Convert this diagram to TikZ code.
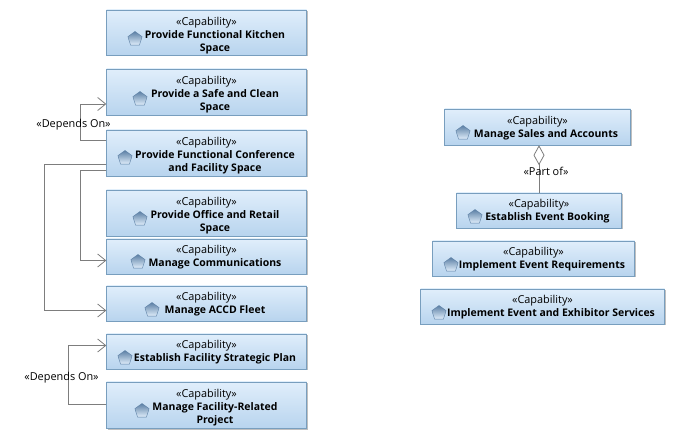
\documentclass[tikz,border=0pt]{standalone}
\usepackage{fontspec}
\setmainfont[BoldFeatures={Scale=0.96}]{Open Sans}
\usepackage{tikz}
\usetikzlibrary{arrows.meta,shadows,shapes.geometric}
\definecolor{capedge}{RGB}{120,158,190}
\definecolor{captop}{RGB}{224,238,251}
\definecolor{capbottom}{RGB}{184,212,238}
\definecolor{iconedge}{RGB}{92,128,165}
\definecolor{linkgray}{RGB}{125,125,125}
\newcommand{\capline}[1]{\hspace*{17pt}\textbf{#1}}
\newcommand{\capone}[1]{\rule{0pt}{10pt}«Capability»\\\capline{#1}}
\newcommand{\captwo}[2]{\rule{0pt}{14pt}«Capability»\\\capline{#1}\\\capline{#2}}

\begin{document}
\begin{tikzpicture}[x=1pt,y=-1pt,font=\fontsize{10.9}{13}\selectfont,
    capbox/.style={draw=capedge,top color=captop,bottom color=capbottom,align=center,inner sep=0pt,
      drop shadow={shadow xshift=1.5pt,shadow yshift=-1.5pt,opacity=0.25,fill=black}},
    icon/.style={regular polygon,regular polygon sides=5,draw=iconedge,top color=iconedge,bottom color=captop,
      minimum size=15pt,inner sep=0pt},
    dep/.style={draw=linkgray,line width=0.8pt,-{Straight Barb[length=8pt,width=13pt]}},
    partof/.style={draw=linkgray,line width=0.8pt,{Diamond[open,length=20pt,width=11pt]}-},
    linklabel/.style={inner sep=0pt}]
    \useasboundingbox (0,0) rectangle (680,443);
    % left column
    \node[capbox,minimum width=200pt,minimum height=45pt] (kitchen) at (206.5,32.5) {\captwo{Provide Functional Kitchen}{Space}};
    \node[capbox,minimum width=200pt,minimum height=46pt] (safe) at (206.5,92) {\captwo{Provide a Safe and Clean}{Space}};
    \node[capbox,minimum width=200pt,minimum height=46pt] (conference) at (206.5,153) {\captwo{Provide Functional Conference}{and Facility Space}};
    \node[capbox,minimum width=200pt,minimum height=46pt] (office) at (206.5,213) {\captwo{Provide Office and Retail}{Space}};
    \node[capbox,minimum width=200pt,minimum height=35pt] (comms) at (206.5,256.5) {\capone{Manage Communications}};
    \node[capbox,minimum width=200pt,minimum height=35pt] (fleet) at (206.5,303.5) {\capone{Manage ACCD Fleet}};
    \node[capbox,minimum width=200pt,minimum height=35pt] (plan) at (206.5,351.5) {\capone{Establish Facility Strategic Plan}};
    \node[capbox,minimum width=200pt,minimum height=46pt] (project) at (206.5,405) {\captwo{Manage Facility-Related}{Project}};
    % right column
    \node[capbox,minimum width=186pt,minimum height=36pt] (sales) at (537.5,127) {\capone{Manage Sales and Accounts}};
    \node[capbox,minimum width=165pt,minimum height=35pt] (booking) at (539,210.5) {\capone{Establish Event Booking}};
    \node[capbox,minimum width=202pt,minimum height=35pt] (requirements) at (533.5,258.5) {\capone{Implement Event Requirements}};
    \node[capbox,minimum width=244pt,minimum height=35pt] (services) at (542.5,306.5) {\capone{Implement Event and Exhibitor Services}};
    % icons
    \node[icon] (ikitchen) at (135,39) {};
    \node[icon] (isafe) at (140,99) {};
    \node[icon] (iconference) at (125,158) {};
    \node[icon] (ioffice) at (140,219) {};
    \node[icon] (icomms) at (138,262) {};
    \node[icon] (ifleet) at (152,310) {};
    \node[icon] (iplan) at (125,358) {};
    \node[icon] (iproject) at (142,411) {};
    \node[icon] (isales) at (463,133) {};
    \node[icon] (ibooking) at (475,217) {};
    \node[icon] (irequirements) at (451,265) {};
    \node[icon] (iservices) at (439,313) {};
    % links
    \draw[dep] ([yshift=13pt]conference.west) -- ++(-26,0) |- ([yshift=-12pt]safe.west);
    \draw[dep] ([yshift=-11pt]conference.west) -- ++(-62,0) |- ([yshift=-7pt]fleet.west);
    \draw[dep] ([yshift=-17pt]conference.west) -- ++(-26,0) |- ([yshift=-4pt]comms.west);
    \draw[dep] ([yshift=1pt]project.west) -- ++(-38,0) |- ([yshift=6pt]plan.west);
    \draw[partof] ([xshift=1.5pt]sales.south) -- ([xshift=1.5pt]sales.south|-booking.north);
    \node[linklabel] (depends1) at (73.5,124.5) {«Depends On»};
    \node[linklabel] (depends2) at (61.5,377.5) {«Depends On»};
    \node[linklabel] (part) at (546,171) {«Part of»};
  \end{tikzpicture}
\end{document}
